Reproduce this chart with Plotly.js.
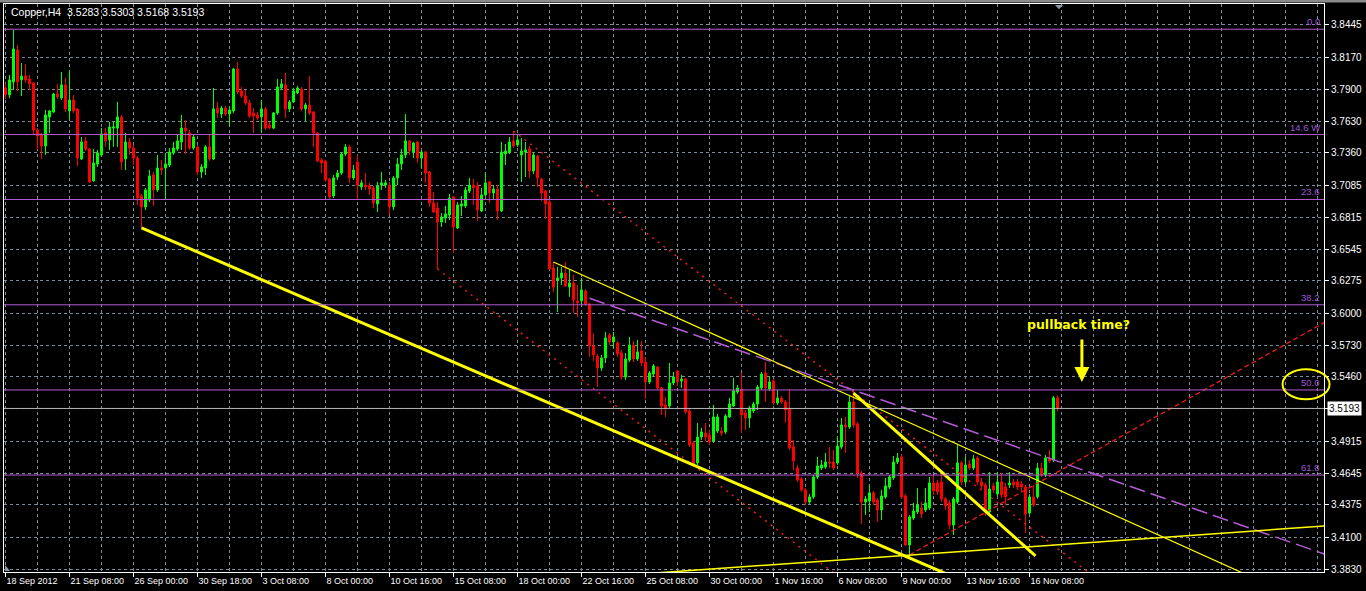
<!DOCTYPE html>
<html>
<head>
<meta charset="utf-8">
<script src="https://cdn.plot.ly/plotly-3.0.1.min.js"></script>
<style>html,body{margin:0;padding:0;background:#000;overflow:hidden}#chart{width:1366px;height:591px}</style>
</head>
<body>
<div id="chart"></div>
<script>
// ---- Copper H4 candles (bar index 0 = 18 Sep 2012 00:00) ----
const openP = [
3.7911,3.7852,3.7962,3.8233,3.7979,3.8012,3.7987,3.7954,3.7555,3.7513,
3.7419,3.7665,3.7707,3.7860,3.7826,3.7937,3.7716,3.7809,3.7733,3.7309,
3.7462,3.7394,3.7123,3.7266,3.7343,3.7530,3.7470,3.7571,3.7571,3.7665,
3.7309,3.7453,3.7402,3.7317,3.6995,3.6902,3.6961,3.7173,3.7046,3.7232,
3.7232,3.7258,3.7360,3.7394,3.7453,3.7571,3.7530,3.7402,3.7411,3.7198,
3.7232,3.7411,3.7309,3.7741,3.7690,3.7741,3.7690,3.7716,3.8072,3.7886,
3.7843,3.7784,3.7699,3.7682,3.7665,3.7733,3.7597,3.7571,3.7699,3.7911,
3.7937,3.7733,3.7792,3.7869,3.7902,3.7733,3.7767,3.7707,3.7530,3.7300,
3.7292,3.7139,3.6995,3.7156,3.7190,3.7351,3.7411,3.7148,3.7283,3.7071,
3.7088,3.7080,3.7063,3.6927,3.7088,3.7088,3.7088,3.6902,3.7148,3.7266,
3.7343,3.7462,3.7368,3.7453,3.7317,3.7368,3.7198,3.6936,3.6893,3.6774,
3.6808,3.6834,3.6987,3.6724,3.6910,3.6910,3.7038,3.7088,3.7080,3.6868,
3.7004,3.7114,3.7020,3.7054,3.6868,3.7351,3.7368,3.7462,3.7428,3.7343,
3.7368,3.7394,3.7207,3.7334,3.7139,3.7038,3.6944,3.6384,3.6283,3.6300,
3.6342,3.6223,3.6257,3.6105,3.6105,3.6189,3.6079,3.5723,3.5638,3.5536,
3.5621,3.5816,3.5757,3.5748,3.5664,3.5460,3.5604,3.5731,3.5613,3.5681,
3.5587,3.5418,3.5485,3.5545,3.5367,3.5223,3.5214,3.5409,3.5511,3.5426,
3.5443,3.5172,3.4901,3.4731,3.4951,3.4985,3.4968,3.4917,3.5002,3.5002,
3.4994,3.5121,3.5214,3.5333,3.5358,3.5155,3.5112,3.5172,3.5231,3.5367,
3.5494,3.5358,3.5426,3.5240,3.5282,3.5248,3.5189,3.4867,3.4688,3.4595,
3.4502,3.4400,3.4443,3.4612,3.4688,3.4697,3.4739,3.4739,3.4731,3.4867,
3.5053,3.5036,3.5248,3.5062,3.4646,3.4400,3.4409,3.4477,3.4417,3.4332,
3.4443,3.4527,3.4604,3.4739,3.4782,3.4451,3.4035,3.4264,3.4315,3.4349,
3.4332,3.4349,3.4561,3.4561,3.4570,3.4426,3.4392,3.4205,3.4400,3.4731,
3.4570,3.4722,3.4688,3.4773,3.4570,3.4544,3.4315,3.4536,3.4468,3.4570,
3.4527,3.4544,3.4570,3.4570,3.4553,3.4527,3.4307,3.4443,3.4443,3.4688,
3.4629,3.4773,3.4756,3.5283];
const highP = [
3.7954,3.8021,3.8405,3.8276,3.8123,3.8114,3.8021,3.7962,3.7571,3.7530,
3.7724,3.7724,3.7869,3.7945,3.8046,3.7996,3.8063,3.7852,3.7741,3.7495,
3.7495,3.7402,3.7394,3.7385,3.7571,3.7571,3.7622,3.7622,3.7792,3.7682,
3.7530,3.7487,3.7428,3.7334,3.7012,3.7063,3.7215,3.7198,3.7343,3.7300,
3.7360,3.7402,3.7453,3.7513,3.7682,3.7639,3.7555,3.7513,3.7428,3.7266,
3.7428,3.7513,3.7911,3.7792,3.7758,3.7758,3.7758,3.8080,3.8131,3.7919,
3.7894,3.7809,3.7741,3.7707,3.7809,3.7750,3.7622,3.7707,3.7987,3.7987,
3.8038,3.7809,3.7911,3.7928,3.7919,3.7784,3.8012,3.7716,3.7530,3.7317,
3.7300,3.7148,3.7173,3.7215,3.7368,3.7436,3.7428,3.7258,3.7343,3.7131,
3.7190,3.7106,3.7080,3.7114,3.7198,3.7131,3.7114,3.7165,3.7317,3.7394,
3.7690,3.7470,3.7453,3.7462,3.7385,3.7377,3.7207,3.7029,3.6944,3.6851,
3.6910,3.7012,3.6995,3.6944,3.6995,3.7071,3.7148,3.7139,3.7114,3.7063,
3.7190,3.7123,3.7088,3.7088,3.7453,3.7436,3.7495,3.7546,3.7513,3.7487,
3.7453,3.7419,3.7368,3.7343,3.7148,3.7046,3.6961,3.6435,3.6393,3.6393,
3.6435,3.6367,3.6325,3.6240,3.6300,3.6206,3.6088,3.5833,3.5655,3.5647,
3.5842,3.5833,3.5842,3.5765,3.5689,3.5664,3.5799,3.5765,3.5774,3.5765,
3.5630,3.5511,3.5570,3.5553,3.5375,3.5291,3.5579,3.5502,3.5519,3.5477,
3.5452,3.5197,3.4918,3.5070,3.5028,3.5070,3.5011,3.5223,3.5146,3.5036,
3.5146,3.5282,3.5452,3.5392,3.5494,3.5180,3.5214,3.5248,3.5392,3.5502,
3.5587,3.5468,3.5443,3.5350,3.5299,3.5265,3.5358,3.4926,3.4714,3.4612,
3.4519,3.4468,3.4629,3.4782,3.4756,3.4816,3.4867,3.4841,3.4951,3.5112,
3.5121,3.5308,3.5333,3.5079,3.4663,3.4451,3.4544,3.4494,3.4434,3.4502,
3.4604,3.4629,3.4790,3.4816,3.4799,3.4468,3.4290,3.4392,3.4519,3.4400,
3.4519,3.4612,3.4629,3.4587,3.4671,3.4443,3.4417,3.4443,3.4892,3.4748,
3.4782,3.4756,3.4799,3.4790,3.4604,3.4561,3.4654,3.4561,3.4654,3.4646,
3.4561,3.4654,3.4595,3.4595,3.4578,3.4544,3.4468,3.4544,3.4731,3.4731,
3.4799,3.4841,3.5299,3.5303];
const lowP = [
3.7818,3.7826,3.7894,3.7886,3.7843,3.7954,3.7894,3.7513,3.7385,3.7309,
3.7343,3.7530,3.7699,3.7818,3.7809,3.7707,3.7648,3.7699,3.7249,3.7300,
3.7377,3.7106,3.7114,3.7241,3.7334,3.7411,3.7385,3.7411,3.7411,3.7215,
3.7215,3.7343,3.7258,3.6919,3.6724,3.6876,3.6944,3.6910,3.7029,3.7173,
3.6961,3.7241,3.7343,3.7377,3.7385,3.7351,3.7385,3.7385,3.7173,3.7148,
3.7173,3.7292,3.7300,3.7656,3.7656,3.7673,3.7588,3.7699,3.7860,3.7826,
3.7767,3.7656,3.7530,3.7639,3.7530,3.7555,3.7563,3.7563,3.7682,3.7894,
3.7656,3.7707,3.7784,3.7860,3.7716,3.7631,3.7682,3.7411,3.7283,3.7190,
3.7114,3.6970,3.6978,3.7131,3.7173,3.7334,3.7106,3.7131,3.6961,3.7046,
3.7046,3.7004,3.6893,3.6859,3.7046,3.7063,3.6834,3.6876,3.7088,3.7215,
3.7317,3.7343,3.7317,3.7275,3.7232,3.7106,3.6902,3.6851,3.6376,3.6732,
3.6766,3.6791,3.6512,3.6715,3.6825,3.6893,3.7020,3.6919,3.6783,3.6859,
3.6995,3.6936,3.6970,3.6791,3.6859,3.7258,3.7351,3.7402,3.7411,3.7114,
3.7156,3.7148,3.7182,3.7071,3.6953,3.6800,3.6367,3.6181,3.6011,3.6240,
3.6223,3.6139,3.6003,3.5969,3.6079,3.6062,3.5630,3.5596,3.5375,3.5511,
3.5579,3.5731,3.5706,3.5630,3.5435,3.5435,3.5587,3.5587,3.5596,3.5553,
3.5274,3.5401,3.5468,3.5350,3.5138,3.5121,3.5197,3.5392,3.5384,3.5367,
3.5146,3.4867,3.4705,3.4714,3.4926,3.4917,3.4884,3.4901,3.4985,3.4960,
3.4977,3.5112,3.5206,3.5316,3.4985,3.5011,3.5028,3.5155,3.5180,3.5350,
3.5248,3.5342,3.5223,3.5223,3.5231,3.5070,3.4841,3.4671,3.4570,3.4485,
3.4375,3.4383,3.4426,3.4595,3.4671,3.4680,3.4688,3.4671,3.4714,3.4850,
3.4816,3.5019,3.5028,3.4604,3.4213,3.4290,3.4315,3.4375,3.4230,3.4247,
3.4426,3.4510,3.4587,3.4722,3.4426,3.4027,3.3934,3.4247,3.4298,3.4264,
3.4315,3.4332,3.4460,3.4460,3.4400,3.4332,3.4171,3.4120,3.4383,3.4544,
3.4553,3.4671,3.4671,3.4544,3.4510,3.4281,3.4298,3.4477,3.4451,3.4434,
3.4375,3.4519,3.4519,3.4502,3.4485,3.4137,3.4290,3.4358,3.4426,3.4612,
3.4612,3.4731,3.4739,3.5168];
const closeP = [
3.7852,3.7979,3.8242,3.7962,3.8012,3.7979,3.7945,3.7555,3.7504,3.7419,
3.7682,3.7716,3.7860,3.7835,3.7937,3.7733,3.7809,3.7716,3.7317,3.7453,
3.7394,3.7114,3.7275,3.7360,3.7521,3.7462,3.7580,3.7580,3.7665,3.7283,
3.7453,3.7402,3.7317,3.6978,3.6902,3.7046,3.7165,3.7046,3.7232,3.7215,
3.7266,3.7368,3.7402,3.7462,3.7571,3.7546,3.7402,3.7495,3.7198,3.7241,
3.7411,3.7309,3.7733,3.7699,3.7741,3.7690,3.7724,3.8072,3.7877,3.7843,
3.7784,3.7673,3.7673,3.7656,3.7733,3.7571,3.7571,3.7699,3.7919,3.7945,
3.7733,3.7792,3.7886,3.7911,3.7733,3.7767,3.7699,3.7530,3.7292,3.7275,
3.7131,3.6987,3.7148,3.7190,3.7351,3.7411,3.7148,3.7215,3.7088,3.7106,
3.7071,3.7054,3.6936,3.7080,3.7106,3.7106,3.6902,3.7148,3.7266,3.7343,
3.7462,3.7377,3.7445,3.7317,3.7368,3.7190,3.6936,3.6859,3.6774,3.6817,
3.6842,3.6978,3.6732,3.6919,3.6927,3.7046,3.7088,3.7063,3.6876,3.7004,
3.7106,3.7020,3.7054,3.6868,3.7368,3.7377,3.7453,3.7419,3.7470,3.7377,
3.7385,3.7207,3.7343,3.7148,3.7020,3.6927,3.6376,3.6223,3.6300,3.6342,
3.6232,3.6257,3.6113,3.6088,3.6198,3.6079,3.5723,3.5647,3.5536,3.5621,
3.5791,3.5757,3.5799,3.5655,3.5460,3.5613,3.5731,3.5613,3.5672,3.5579,
3.5418,3.5494,3.5553,3.5367,3.5214,3.5197,3.5409,3.5460,3.5418,3.5443,
3.5163,3.4884,3.4722,3.4951,3.4994,3.4951,3.4909,3.5121,3.5121,3.4985,
3.5129,3.5231,3.5342,3.5367,3.5138,3.5112,3.5197,3.5231,3.5375,3.5485,
3.5367,3.5418,3.5240,3.5282,3.5248,3.5180,3.4858,3.4748,3.4587,3.4502,
3.4400,3.4443,3.4612,3.4705,3.4714,3.4739,3.4731,3.4688,3.4875,3.5053,
3.5036,3.5248,3.5053,3.4646,3.4400,3.4426,3.4477,3.4400,3.4332,3.4451,
3.4536,3.4612,3.4739,3.4773,3.4443,3.4035,3.4273,3.4324,3.4375,3.4298,
3.4392,3.4561,3.4493,3.4485,3.4426,3.4366,3.4205,3.4426,3.4731,3.4570,
3.4714,3.4688,3.4765,3.4570,3.4536,3.4315,3.4510,3.4502,3.4570,3.4460,
3.4443,3.4561,3.4544,3.4527,3.4527,3.4298,3.4443,3.4375,3.4688,3.4629,
3.4773,3.4748,3.5283,3.5193];

// ---- axis labels ----
const dateLabels = ["18 Sep 2012","21 Sep 08:00","26 Sep 00:00","30 Sep 18:00","3 Oct 08:00","8 Oct 00:00",
  "10 Oct 16:00","15 Oct 08:00","18 Oct 00:00","22 Oct 16:00","25 Oct 08:00","30 Oct 00:00",
  "1 Nov 16:00","6 Nov 08:00","9 Nov 00:00","13 Nov 16:00","16 Nov 08:00"];
const dateLabelBars = [0,16,32,48,64,80,96,112,128,144,160,176,192,208,224,240,256];
const priceTicks = [3.8445,3.8170,3.7900,3.7630,3.7360,3.7085,3.6815,3.6545,3.6275,3.6000,
  3.5730,3.5460,3.5190,3.4915,3.4645,3.4375,3.4100,3.3830];
const priceTickText = ["3.8445","3.8170","3.7900","3.7630","3.7360","3.7085","3.6815","3.6545","3.6275","3.6000",
  "3.5730","3.5460","","3.4915","3.4645","3.4375","3.4100","3.3830"];

// ---- Fibonacci retracement ----
const fibHigh = 3.8409, fibLow = 3.2291;
const fibLevels = [0, 14.6, 23.6, 38.2, 50, 61.8];
const fibLabels = ["0.0", "14.6 W", "23.6", "38.2", "50.0", "61.8"];
const lastPrice = 3.5193;

// ---- drawn trend lines: [bar, price] anchors ----
const supportThickX = [34, 226],  supportThickY = [3.6724, 3.3925];
const resistThinX   = [137, 212], resistThinY   = [3.6435, 3.5287];
const steepThickX   = [212, 257.5], steepThickY = [3.5322, 3.3942];
const baseThinX     = [173, 330], baseThinY     = [3.3823, 3.4197];
const purpleDashX   = [146, 212], purpleDashY   = [3.6127, 3.5348];
const redUpperX     = [127, 212], redUpperY     = [3.7546, 3.5333];
const redLowerStartX = 108, redLowerStartY = 3.6376;
const redRiseX      = [226, 330], redRiseY      = [3.3951, 3.5927];

const xMin = -0.375, xMax = 329.625;
const yMin = 3.3806, yMax = 3.8623;

function extend(xs, ys, xa, xb) {
  const s = (ys[1] - ys[0]) / (xs[1] - xs[0]);
  return {x: [xa, xb], y: [ys[0] + s * (xa - xs[0]), ys[0] + s * (xb - xs[0])]};
}

const bars = openP.map((_, i) => i);
const traces = [];
traces.push({
  type: 'candlestick', x: bars, open: openP, high: highP, low: lowP, close: closeP,
  increasing: {line: {color: '#00FF00', width: 1}, fillcolor: '#00FF00'},
  decreasing: {line: {color: '#FF0000', width: 1}, fillcolor: '#FF0000'},
  whiskerwidth: 0, hoverinfo: 'skip', showlegend: false
});
function line(seg, color, width, dash) {
  traces.push({type: 'scatter', mode: 'lines', x: seg.x, y: seg.y, hoverinfo: 'skip', showlegend: false,
    line: {color: color, width: width, dash: dash || 'solid'}});
}
const slopeUpper = (redUpperY[1] - redUpperY[0]) / (redUpperX[1] - redUpperX[0]);
line(extend(redUpperX, redUpperY, redUpperX[0], 340), '#FF1A1A', 1.4, '2px,5px');
line(extend([redLowerStartX, redLowerStartX + 1], [redLowerStartY, redLowerStartY + slopeUpper], redLowerStartX, 340), '#FF1A1A', 1.4, '2px,5px');
line(extend(redRiseX, redRiseY, redRiseX[0], 340), '#FF1A1A', 1.2, '5px,3px');
line(extend(purpleDashX, purpleDashY, purpleDashX[0], 340), '#B45CD6', 1.5, '16px,6px');
line(extend(supportThickX, supportThickY, supportThickX[0], 300), '#FFFF00', 3);
line(extend(resistThinX, resistThinY, resistThinX[0], 340), '#FFFF00', 1.2);
line({x: steepThickX, y: steepThickY}, '#FFFF00', 3);
line(extend(baseThinX, baseThinY, 150, 340), '#FFFF00', 1.5);

const fibColor = '#B45CD6';
const shapes = [];
const annotations = [];
fibLevels.forEach((lv, i) => {
  const p = fibHigh - (fibHigh - fibLow) * lv / 100;
  shapes.push({type: 'line', xref: 'paper', yref: 'y', x0: 0, x1: 1, y0: p, y1: p,
    line: {color: fibColor, width: 1}, layer: 'above'});
  annotations.push({xref: 'paper', yref: 'y', x: 0.9985, y: p, xanchor: 'right', yanchor: 'bottom',
    text: fibLabels[i], showarrow: false, yshift: 0,
    font: {family: 'Liberation Sans, Arial', size: 9.5, color: '#9E58D8'}});
});
shapes.push({type: 'line', xref: 'paper', yref: 'y', x0: 0, x1: 1, y0: lastPrice, y1: lastPrice,
  line: {color: '#B4B4B4', width: 1}, layer: 'above'});
// circle around 50.0 label
shapes.push({type: 'circle', xref: 'paper', yref: 'paper', x0: 0.9686, x1: 1.0042, y0: 0.304, y1: 0.357,
  line: {color: '#FFFF00', width: 2}, layer: 'above'});
// window frame + chart shift markers
shapes.push({type: 'rect', xref: 'paper', yref: 'paper', x0: -0.004, x1: 1.033, y0: 1.0026, y1: 1.008,
  line: {width: 0}, fillcolor: '#8a8a8a', layer: 'above'});
shapes.push({type: 'path', xref: 'paper', yref: 'paper', path: 'M 0.7962 0.9982 L 0.8023 0.9982 L 0.7992 0.9907 Z',
  line: {width: 0}, fillcolor: '#8899AA', layer: 'above'});
shapes.push({type: 'path', xref: 'paper', yref: 'paper', path: 'M 0.0008 0.0123 L 0.0008 0.0018 L 0.0046 0.0018 Z',
  line: {width: 0}, fillcolor: '#8899AA', layer: 'above'});

annotations.push({xref: 'paper', yref: 'paper', x: 0.0036, y: 0.986, xanchor: 'left', yanchor: 'middle',
  text: 'Copper,H4\u00a0\u00a03.5283 3.5303 3.5168 3.5193', showarrow: false,
  font: {family: 'Liberation Sans, Arial', size: 10.5, color: '#FFFFFF'}});
annotations.push({xref: 'x', yref: 'y', x: 268.2, y: 3.5901, xanchor: 'center', yanchor: 'middle',
  text: '<b>pullback time?</b>', showarrow: false,
  font: {family: 'DejaVu Sans', size: 12.5, color: '#FFFF00'}});
annotations.push({xref: 'x', yref: 'y', x: 269.1, y: 3.5418, ax: 0, ay: -44, text: '',
  showarrow: true, arrowhead: 2, arrowsize: 1, arrowwidth: 3, arrowcolor: '#FFFF00', standoff: 0});
annotations.push({xref: 'paper', yref: 'y', x: 1.0025, y: lastPrice, xanchor: 'left', yanchor: 'middle',
  text: '3.5193', showarrow: false, bgcolor: '#FFFFFF', borderpad: 1,
  font: {family: 'Liberation Sans, Arial', size: 10, color: '#000000'}});

const gridCol = '#7E8C9A';
const layout = {
  width: 1366, height: 591,
  margin: {l: 4, r: 42, t: 4, b: 19, pad: 0},
  paper_bgcolor: '#000000', plot_bgcolor: '#000000',
  showlegend: false, hovermode: false,
  boxgap: 0.5, boxgroupgap: 0,
  xaxis: {
    range: [xMin, xMax], fixedrange: true, rangeslider: {visible: false},
    tickmode: 'array', tickvals: dateLabelBars, ticktext: dateLabels,
    ticks: 'outside', ticklen: 4, tickcolor: '#FFFFFF', ticklabelposition: 'outside right',
    tickfont: {family: 'Liberation Sans, Arial', size: 9, color: '#FFFFFF'},
    showgrid: true, gridcolor: gridCol, griddash: '3px,3px', gridwidth: 1,
    minor: {tickmode: 'linear', tick0: 0, dtick: 8, showgrid: true, gridcolor: gridCol, griddash: '3px,3px', gridwidth: 1, ticks: ''},
    showline: true, linecolor: '#FFFFFF', linewidth: 1, mirror: true, zeroline: false
  },
  yaxis: {
    side: 'right', range: [yMin, yMax], fixedrange: true,
    tickmode: 'array', tickvals: priceTicks, ticktext: priceTickText,
    ticks: 'outside', ticklen: 4, tickcolor: '#FFFFFF',
    tickfont: {family: 'Liberation Sans, Arial', size: 10, color: '#FFFFFF'},
    showgrid: true, gridcolor: gridCol, griddash: '3px,3px', gridwidth: 1,
    showline: true, linecolor: '#FFFFFF', linewidth: 1, mirror: true, zeroline: false
  },
  shapes: shapes,
  annotations: annotations
};
Plotly.newPlot('chart', traces, layout, {staticPlot: true, displayModeBar: false});
</script>
</body>
</html>
